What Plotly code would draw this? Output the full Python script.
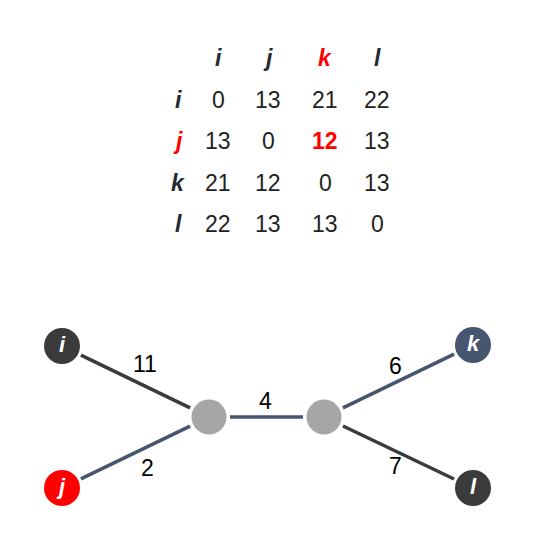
import numpy as np
import plotly.graph_objects as go

# distance matrix
labels = ["i", "j", "k", "l"]
dist = [[0, 13, 21, 22],
        [13, 0, 12, 13],
        [21, 12, 0, 13],
        [22, 13, 13, 0]]
highlight = ("j", "k")  # row, column

# tree
leaf_names = ["i", "j", "k", "l"]
leaf_colors = ["#3b3b3b", "#ff0000", "#465570", "#3b3b3b"]
edges = [("i", "A"), ("j", "A"), ("A", "B"), ("B", "k"), ("B", "l")]
edge_lengths = [11, 2, 4, 6, 7]
edge_colors = ["#3b3b3b", "#465570", "#465570", "#465570", "#3b3b3b"]

# pixel positions of nodes (layout); page has an 8px body offset
OFF = 8
pos = {"i": (62, 346), "j": (62, 488), "k": (473, 345), "l": (473, 488),
       "A": (209, 417), "B": (324, 417)}
pos = {k: (x - OFF, y - OFF) for k, (x, y) in pos.items()}
label_off = [(145, 364), (147, 468), (265, 401), (395, 366), (395, 466)]
label_off = [(x - OFF, y - OFF) for x, y in label_off]

RED = "#ff0000"
DARK = "#222a33"
FONT = "Liberation Sans"
fig = go.Figure()

for (a, b), w, c in zip(edges, edge_lengths, edge_colors):
    p, q = np.array(pos[a], float), np.array(pos[b], float)
    d = (q - p) / np.linalg.norm(q - p)
    p2, q2 = p + d * 21, q - d * 21
    fig.add_trace(go.Scatter(x=[p2[0], q2[0]], y=[p2[1], q2[1]], mode="lines",
                             line=dict(color=c, width=3.5), hoverinfo="skip"))

fig.add_trace(go.Scatter(x=[pos["A"][0], pos["B"][0]], y=[pos["A"][1], pos["B"][1]],
                         mode="markers", marker=dict(size=35, color="#a6a6a6"),
                         hoverinfo="skip"))
fig.add_trace(go.Scatter(x=[pos[n][0] for n in leaf_names], y=[pos[n][1] for n in leaf_names],
                         mode="markers+text", text=[f"<b><i>{n}</i></b>" for n in leaf_names],
                         textfont=dict(color="white", size=22, family=FONT),
                         marker=dict(size=36, color=leaf_colors), hoverinfo="skip"))

ann = []
for (x, y), w in zip(label_off, edge_lengths):
    ann.append(dict(x=x, y=y, text=str(w), showarrow=False,
                    font=dict(size=23, color="black", family=FONT)))

col_x = [x - OFF for x in [218, 268, 325, 377]]
row_y = [y - OFF for y in [100, 141, 183, 224]]
head_y = 58 - OFF
row_lab_x = 178 - OFF
for ci, lab in enumerate(labels):
    ann.append(dict(x=col_x[ci], y=head_y, text=f"<b><i>{lab}</i></b>", showarrow=False,
                    font=dict(size=23, color=RED if lab == highlight[1] else DARK, family=FONT)))
for ri, lab in enumerate(labels):
    ann.append(dict(x=row_lab_x, y=row_y[ri], text=f"<b><i>{lab}</i></b>", showarrow=False,
                    font=dict(size=23, color=RED if lab == highlight[0] else DARK, family=FONT)))
    for ci, v in enumerate(dist[ri]):
        hl = lab == highlight[0] and labels[ci] == highlight[1]
        ann.append(dict(x=col_x[ci], y=row_y[ri], text=f"<b>{v}</b>" if hl else str(v),
                        showarrow=False,
                        font=dict(size=23, color=RED if hl else "#222222", family=FONT)))

fig.update_layout(width=555, height=551, margin=dict(l=0, r=0, t=0, b=0),
                  plot_bgcolor="white", paper_bgcolor="white", showlegend=False,
                  annotations=ann,
                  xaxis=dict(range=[0, 555], visible=False, fixedrange=True),
                  yaxis=dict(range=[551, 0], visible=False, fixedrange=True))
fig.write_html("out.html")
